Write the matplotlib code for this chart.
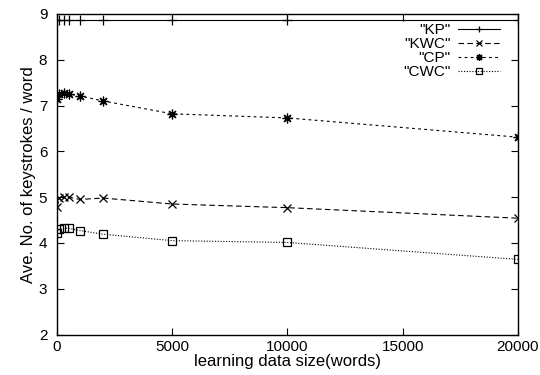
import matplotlib
matplotlib.use("Agg")
import matplotlib.pyplot as plt

plt.rcParams['font.family'] = ['Liberation Sans', 'DejaVu Sans']

x = [10, 100, 300, 500, 1000, 2000, 5000, 10000, 20000]
kp = [8.86, 8.86, 8.86, 8.86, 8.86, 8.86, 8.86, 8.86, 8.86]
kwc = [4.79, 4.99, 5.00, 5.00, 4.95, 4.98, 4.85, 4.77, 4.54]
cp = [7.15, 7.25, 7.28, 7.25, 7.21, 7.10, 6.82, 6.73, 6.31]
cwc = [4.22, 4.31, 4.32, 4.32, 4.27, 4.19, 4.05, 4.01, 3.64]
labels = ['"KP"', '"KWC"', '"CP"', '"CWC"']
xticks = [0, 5000, 10000, 15000, 20000]
yticks = [2, 3, 4, 5, 6, 7, 8, 9]

fig = plt.figure(figsize=(5.4, 3.75), dpi=100)
ax = fig.add_axes([0.1056, 0.108, 0.8534, 0.8547])

lw = 0.8
ax.plot(x, kp, color='black', lw=lw, ls='-', marker='+', ms=7, mew=0.9, label=labels[0])
ax.plot(x, kwc, color='black', lw=lw, ls=(0, (5, 3)), marker='x', ms=6, mew=0.9, label=labels[1])
ax.plot(x, cp, color='black', lw=lw, ls=(0, (2.5, 3)), marker=(8, 2, 0), ms=7, mew=0.9, label=labels[2])
ax.plot(x, cwc, color='black', lw=lw, ls=(0, (1, 1.5)), marker='s', ms=6, mfc='none', mew=0.9, label=labels[3])

ax.set_xlim(0, 20000)
ax.set_ylim(2, 9)
ax.set_xticks(xticks)
ax.set_yticks(yticks)
ax.tick_params(direction='in', top=True, right=True, length=5, width=0.8, labelsize=11)
ax.tick_params(axis='y', pad=7)
ax.tick_params(axis='x', pad=4)
for s in ax.spines.values():
    s.set_linewidth(1.0)
ax.set_xlabel('learning data size(words)', fontsize=12, labelpad=0)
ax.set_ylabel('Ave. No. of keystrokes / word', fontsize=12, labelpad=2)

leg = ax.legend(loc='upper right', frameon=False, markerfirst=False, fontsize=11,
                handlelength=2.8, labelspacing=0.0, borderaxespad=0.0, handletextpad=0.45,
                numpoints=1, bbox_to_anchor=(0.962, 0.972), borderpad=0.0)
for h in leg.legend_handles:
    h.set_markersize(5)

fig.savefig('out.png', dpi=100)
